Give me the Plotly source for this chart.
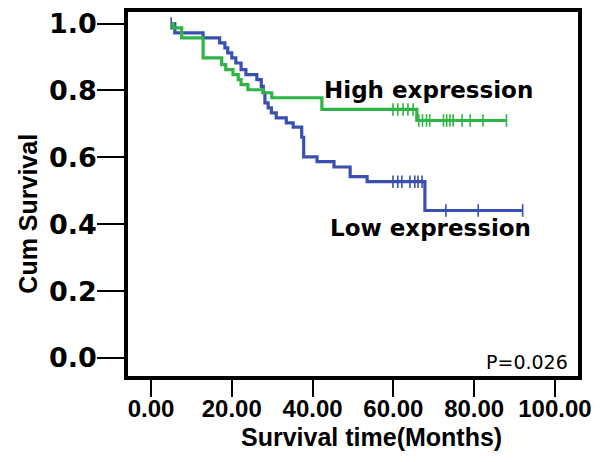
import plotly.graph_objects as go

# ---- data ----
low_times = [5.0, 5.9, 12.9, 17.0, 18.3, 19.0, 20.0, 21.0, 22.3, 23.5, 26.2, 27.3, 27.8, 28.2,
             29.0, 29.8, 31.0, 33.5, 35.2, 37.3, 37.8, 41.1, 45.3, 49.3, 53.5, 67.8, 92.0]
low_surv = [1.0, 0.972, 0.957, 0.942, 0.927, 0.912, 0.897, 0.882, 0.862, 0.847, 0.832, 0.812,
            0.793, 0.763, 0.748, 0.733, 0.718, 0.703, 0.690, 0.660, 0.601, 0.587, 0.571, 0.542,
            0.527, 0.441, 0.441]
low_censor = [5.0, 59.9, 61.1, 62.1, 64.1, 65.3, 66.1, 67.1, 73.0, 81.0, 92.0]

high_times = [5.0, 5.5, 7.6, 12.9, 17.5, 18.5, 20.3, 21.6, 22.3, 24.0, 27.7, 29.9, 42.3, 65.8, 88.0]
high_surv = [1.0, 0.987, 0.957, 0.897, 0.877, 0.862, 0.847, 0.832, 0.817, 0.802, 0.793, 0.778,
             0.743, 0.710, 0.710]
high_censor = [59.9, 61.1, 62.4, 63.6, 64.9, 66.3, 67.2, 68.2, 69.0, 72.4, 73.2, 74.0, 74.8,
               77.0, 79.0, 82.2, 88.0]

x_ticks = [0, 20, 40, 60, 80, 100]
y_ticks = [0.0, 0.2, 0.4, 0.6, 0.8, 1.0]

GREEN = "#2FB545"
BLUE = "#3A50B0"


def step_value(times, surv, t):
    v = surv[0]
    for ti, si in zip(times, surv):
        if ti <= t:
            v = si
    return v


fig = go.Figure()
for times, surv, cens, col in [(low_times, low_surv, low_censor, BLUE),
                               (high_times, high_surv, high_censor, GREEN)]:
    fig.add_trace(go.Scatter(x=times, y=surv, mode="lines", line=dict(color=col, width=3.2, shape="hv"),
                             showlegend=False, hoverinfo="skip"))
    fig.add_trace(go.Scatter(x=cens, y=[step_value(times, surv, t) for t in cens], mode="markers",
                             marker=dict(symbol="line-ns", size=9, line=dict(color=col, width=1.6)),
                             showlegend=False, hoverinfo="skip"))

fig.add_annotation(x=68.6, y=0.802, xref="x", yref="y", text="High expression", showarrow=False,
                   xanchor="center", yanchor="middle",
                   font=dict(family="DejaVu Sans", size=23, color="black", weight="bold"))
fig.add_annotation(x=69.1, y=0.389, xref="x", yref="y", text="Low expression", showarrow=False,
                   xanchor="center", yanchor="middle",
                   font=dict(family="DejaVu Sans", size=23, color="black", weight="bold"))
fig.add_annotation(x=93.1, y=-0.013, xref="x", yref="y", text="P=0.026", showarrow=False,
                   xanchor="center", yanchor="middle",
                   font=dict(family="DejaVu Sans", size=19, color="black"))
fig.add_annotation(x=-0.223, y=0.445, xref="paper", yref="paper", text="Cum Survival", showarrow=False,
                   textangle=-90, xanchor="center", yanchor="middle",
                   font=dict(family="Liberation Sans", size=25, color="black", weight="bold"))
fig.add_annotation(x=0.542, y=-0.168, xref="paper", yref="paper", text="Survival time(Months)",
                   showarrow=False, xanchor="center", yanchor="middle",
                   font=dict(family="Liberation Sans", size=25, color="black", weight="bold"))

fig.update_layout(
    width=592, height=454,
    margin=dict(l=120, r=22, t=4, b=86, autoexpand=False),
    paper_bgcolor="white", plot_bgcolor="white",
    xaxis=dict(range=[-5.69, 105.7], tickvals=x_ticks, ticktext=[f"{v:.2f}" for v in x_ticks],
               ticks="outside", ticklen=17, tickwidth=2, tickcolor="black",
               showline=True, linecolor="black", linewidth=3.5, mirror=True,
               showgrid=False, zeroline=False, automargin=False, ticklabelstandoff=-9,
               ticklabeloverflow="allow",
               tickfont=dict(family="Liberation Sans", size=24, color="black", weight="bold")),
    yaxis=dict(range=[-0.0538, 1.0344], tickvals=y_ticks, ticktext=[f"{v:.1f}" for v in y_ticks],
               ticks="outside", ticklen=27, tickwidth=1.5, tickcolor="black",
               showline=True, linecolor="black", linewidth=3.5, mirror=True,
               showgrid=False, zeroline=False, automargin=False, ticklabelstandoff=-5,
               ticklabeloverflow="allow",
               tickfont=dict(family="DejaVu Sans", size=27, color="black", weight="bold")),
)

fig.write_html("out.html")
